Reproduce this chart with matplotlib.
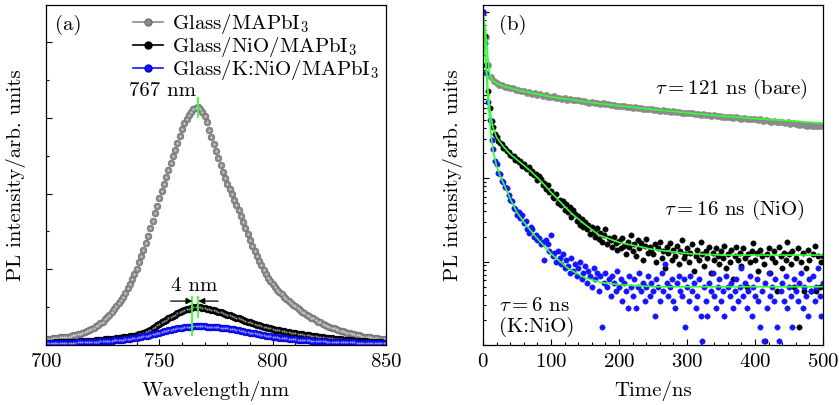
import numpy as np
import matplotlib
matplotlib.use('Agg')
import matplotlib.pyplot as plt
from matplotlib.lines import Line2D
from matplotlib.ticker import MultipleLocator, LogLocator, NullFormatter

plt.rcParams['font.family'] = 'serif'
plt.rcParams['font.serif'] = ['cmr10']
plt.rcParams['mathtext.fontset'] = 'cm'
plt.rcParams['axes.unicode_minus'] = False
plt.rcParams['axes.formatter.use_mathtext'] = True
plt.rcParams['font.size'] = 15

# ---------------- (a) steady-state PL ----------------
wl = np.arange(700, 851)   # nm, 1 nm step

pl_bare = [0.08, 0.08, 0.08, 0.09, 0.09, 0.09, 0.10, 0.10, 0.10, 0.11,
           0.11, 0.12, 0.13, 0.13, 0.14, 0.15, 0.16, 0.17, 0.18, 0.20,
           0.21, 0.23, 0.25, 0.27, 0.29, 0.31, 0.34, 0.37, 0.40, 0.43,
           0.47, 0.51, 0.55, 0.59, 0.64, 0.69, 0.75, 0.81, 0.87, 0.94,
           1.01, 1.09, 1.17, 1.26, 1.35, 1.44, 1.54, 1.64, 1.74, 1.84,
           1.94, 2.04, 2.13, 2.22, 2.31, 2.40, 2.49, 2.58, 2.67, 2.76,
           2.85, 2.93, 2.99, 3.04, 3.08, 3.11, 3.13, 3.14, 3.12, 3.08,
           3.02, 2.94, 2.84, 2.75, 2.65, 2.56, 2.47, 2.38, 2.29, 2.21,
           2.13, 2.06, 1.99, 1.92, 1.85, 1.78, 1.71, 1.63, 1.55, 1.47,
           1.39, 1.31, 1.24, 1.17, 1.11, 1.05, 0.99, 0.94, 0.89, 0.84,
           0.80, 0.77, 0.73, 0.70, 0.67, 0.64, 0.61, 0.58, 0.56, 0.53,
           0.51, 0.49, 0.46, 0.44, 0.42, 0.40, 0.38, 0.36, 0.35, 0.33,
           0.31, 0.30, 0.28, 0.27, 0.25, 0.24, 0.23, 0.22, 0.21, 0.20,
           0.19, 0.18, 0.17, 0.16, 0.16, 0.15, 0.14, 0.13, 0.13, 0.12,
           0.11, 0.11, 0.10, 0.10, 0.09, 0.09, 0.09, 0.08, 0.08, 0.08,
           0.08]

pl_nio = [0.030, 0.031, 0.032, 0.033, 0.034, 0.035, 0.036, 0.037, 0.038, 0.039, 0.040,
          0.041, 0.043, 0.044, 0.046, 0.047, 0.049, 0.050, 0.052, 0.053, 0.055,
          0.058, 0.061, 0.064, 0.067, 0.070, 0.073, 0.076, 0.079, 0.082, 0.085,
          0.089, 0.093, 0.097, 0.101, 0.105, 0.110, 0.115, 0.120, 0.125, 0.130,
          0.139, 0.148, 0.158, 0.169, 0.180, 0.199, 0.218, 0.238, 0.259, 0.280,
          0.298, 0.316, 0.334, 0.352, 0.370, 0.386, 0.402, 0.418, 0.434, 0.450,
          0.461, 0.472, 0.482, 0.491, 0.500, 0.502, 0.503, 0.500, 0.493, 0.485,
          0.478, 0.471, 0.464, 0.457, 0.450, 0.440, 0.430, 0.420, 0.410, 0.400,
          0.390, 0.380, 0.370, 0.360, 0.350, 0.340, 0.330, 0.320, 0.310, 0.300,
          0.290, 0.280, 0.270, 0.260, 0.250, 0.242, 0.234, 0.226, 0.218, 0.210,
          0.204, 0.198, 0.192, 0.186, 0.180, 0.175, 0.170, 0.165, 0.160, 0.155,
          0.150, 0.145, 0.140, 0.135, 0.130, 0.126, 0.122, 0.118, 0.114, 0.110,
          0.106, 0.102, 0.098, 0.094, 0.090, 0.087, 0.084, 0.081, 0.078, 0.075,
          0.072, 0.069, 0.066, 0.063, 0.060, 0.058, 0.056, 0.054, 0.052, 0.050,
          0.048, 0.046, 0.044, 0.042, 0.040, 0.038, 0.036, 0.034, 0.032, 0.030]

pl_knio = [0.025, 0.0255, 0.026, 0.0265, 0.027, 0.0275, 0.028, 0.0285, 0.029, 0.0295, 0.030,
           0.031, 0.032, 0.033, 0.034, 0.035, 0.036, 0.037, 0.038, 0.039, 0.040,
           0.042, 0.044, 0.046, 0.048, 0.050, 0.052, 0.054, 0.056, 0.058, 0.060,
           0.063, 0.066, 0.069, 0.072, 0.075, 0.079, 0.083, 0.087, 0.091, 0.095,
           0.101, 0.107, 0.113, 0.119, 0.125, 0.133, 0.141, 0.149, 0.157, 0.165,
           0.172, 0.179, 0.186, 0.193, 0.200, 0.206, 0.212, 0.218, 0.224, 0.230,
           0.233, 0.236, 0.239, 0.242, 0.245, 0.246, 0.247, 0.247, 0.246, 0.245,
           0.243, 0.241, 0.239, 0.237, 0.235, 0.232, 0.229, 0.226, 0.223, 0.220,
           0.215, 0.210, 0.205, 0.200, 0.195, 0.189, 0.183, 0.177, 0.171, 0.165,
           0.159, 0.153, 0.147, 0.141, 0.135, 0.130, 0.125, 0.120, 0.115, 0.110,
           0.106, 0.102, 0.098, 0.094, 0.090, 0.087, 0.084, 0.081, 0.078, 0.075,
           0.072, 0.070, 0.067, 0.065, 0.062, 0.060, 0.058, 0.056, 0.054, 0.052,
           0.051, 0.049, 0.048, 0.046, 0.045, 0.044, 0.043, 0.042, 0.041, 0.040,
           0.039, 0.038, 0.037, 0.036, 0.035, 0.034, 0.033, 0.032, 0.031, 0.030,
           0.029, 0.029, 0.028, 0.028, 0.027, 0.027, 0.026, 0.026, 0.025, 0.025]

peak_bare = 767
peak_knio = 764.6
peak_nio = 767.2

# ---------------- (b) TRPL ----------------
t_bare = np.arange(0, 501, 4)      # ns
trpl_bare = [1.0, 0.50, 0.23, 0.165, 0.147, 0.139, 0.131, 0.130, 0.125, 0.124,
             0.120, 0.120, 0.115, 0.115, 0.111, 0.112, 0.107, 0.108, 0.104, 0.105,
             0.101, 0.102, 0.098, 0.099, 0.095,
             0.094, 0.096, 0.092, 0.093, 0.090, 0.091, 0.088, 0.089, 0.088, 0.086,
             0.086, 0.084, 0.084, 0.083, 0.081, 0.082, 0.080, 0.081, 0.078, 0.079,
             0.077, 0.078, 0.075, 0.076, 0.074,
             0.074, 0.073, 0.074, 0.071, 0.072, 0.070, 0.071, 0.069, 0.070, 0.068,
             0.068, 0.067, 0.068, 0.066, 0.066, 0.065, 0.066, 0.064, 0.064, 0.063,
             0.064, 0.062, 0.062, 0.061, 0.061,
             0.061, 0.060, 0.061, 0.059, 0.059, 0.058, 0.059, 0.057, 0.058, 0.056,
             0.057, 0.056, 0.056, 0.055, 0.055, 0.054, 0.055, 0.053, 0.054, 0.053,
             0.052, 0.053, 0.051, 0.052, 0.051,
             0.051, 0.050, 0.051, 0.049, 0.050, 0.049, 0.048, 0.049, 0.047, 0.048,
             0.047, 0.046, 0.047, 0.045, 0.046, 0.045, 0.044, 0.045, 0.044, 0.043,
             0.044, 0.043, 0.042, 0.043, 0.042,
             0.042]

t_dec = np.arange(0, 500.1, 2.5)   # ns
norm_counts = 18000.0
counts_nio = [18000, 9300, 4100, 2000, 1250, 880, 740, 610, 570, 505, 480, 470, 420, 415, 380, 372, 345, 332, 335, 300,
              305, 280, 290, 255, 265, 240, 232, 245, 210, 222, 195, 205, 170, 190, 178, 150, 160, 135, 148, 122,
              128, 108, 104, 118, 92, 100, 86, 97, 76, 88, 71, 82, 62, 75, 68, 55, 64, 50, 58, 47,
              54, 44, 50, 39, 47, 41, 36, 45, 34, 40, 31, 38, 44, 29, 35, 33, 27, 36, 30, 25,
              32, 26, 35, 28, 22, 31, 27, 38, 24, 29, 21, 33, 26, 30, 19, 28, 34, 23, 27, 25,
              22, 29, 18, 26, 31, 20, 24, 15, 27, 23, 30, 19, 25, 21, 28, 17, 24, 33, 20, 22,
              26, 18, 23, 29, 14, 21, 25, 19, 31, 22, 16, 24, 20, 27, 13, 23, 19, 26, 21, 17,
              24, 20, 28, 15, 22, 18, 25, 11, 21, 27, 19, 23, 16, 26, 20, 9, 22, 18, 24, 30,
              19, 23, 14, 25, 21, 17, 2, 22, 26, 13, 20, 24, 18, 8, 27, 21, 15, 23, 19, 31,
              22, 17, 24, 9, 20, 26, 3, 18, 23, 8, 15, 25, 19, 8, 22, 28, 8, 21, 9, 18,
              21]
counts_knio = [18000, 7600, 3300, 1500, 900, 520, 400, 290, 265, 210, 200, 168, 162, 140, 136, 112, 100, 96, 80, 78,
               66, 70, 60, 66, 52, 55, 44, 40, 47, 44, 36, 38, 33, 35, 29, 31, 19, 33, 29, 24,
               38, 21, 23, 18, 24, 20, 17, 22, 15, 19, 16, 13, 20, 14, 17, 12, 15, 18, 11, 13,
               16, 10, 14, 12, 9, 15, 11, 13, 8, 12, 3, 10, 13, 9, 11, 7, 12, 10, 8, 14,
               9, 11, 6, 10, 8, 5, 12, 9, 7, 11, 5, 9, 13, 8, 10, 6, 9, 12, 7, 10,
               8, 4, 11, 9, 6, 13, 8, 17, 10, 7, 9, 11, 6, 5, 10, 12, 8, 7, 11, 3,
               9, 6, 12, 8, 10, 5, 7, 11, 4, 2, 9, 6, 4, 10, 8, 13, 7, 5, 9, 11,
               6, 8, 4, 12, 9, 7, 10, 5, 8, 11, 6, 9, 15, 7, 10, 5, 8, 12, 4, 9,
               7, 11, 6, 3, 8, 2, 10, 5, 13, 7, 9, 6, 11, 3, 2, 8, 10, 6, 12, 5,
               9, 7, 3, 11, 8, 6, 10, 13, 5, 9, 7, 4, 11, 8, 12, 6, 9, 15, 7, 4,
               10]

# fitted decays (green)
fit_t_bare = [0, 2, 4, 6, 8, 10, 12, 15, 20, 30, 50, 75, 100, 150, 200, 250, 300, 350, 400, 450, 500]
fit_bare = [1.0, 0.75, 0.55, 0.37, 0.23, 0.175, 0.158, 0.148, 0.138, 0.127, 0.115, 0.104, 0.095,
            0.083, 0.074, 0.067, 0.061, 0.056, 0.052, 0.049, 0.046]
fit_t_nio = [0, 2, 4, 6, 8, 10, 12, 15, 20, 30, 40, 50, 60, 70, 80, 90, 100, 110, 120, 130, 150,
             170, 200, 250, 300, 350, 400, 500]
fit_nio = [1.0, 0.6, 0.3, 0.16, 0.1, 0.068, 0.052, 0.04, 0.031, 0.024, 0.0195, 0.0167, 0.0143,
           0.0122, 0.0102, 0.0084, 0.0068, 0.0056, 0.0046, 0.0038, 0.0028, 0.0021, 0.0017,
           0.0014, 0.00125, 0.0012, 0.0012, 0.0012]
fit_t_knio = [0, 2, 4, 6, 8, 10, 12, 15, 20, 25, 30, 40, 50, 60, 75, 100, 125, 150, 175, 200, 250, 500]
fit_knio = [1.0, 0.5, 0.25, 0.13, 0.075, 0.048, 0.032, 0.021, 0.014, 0.0108, 0.0088, 0.0057,
            0.0039, 0.003, 0.0021, 0.00125, 0.00083, 0.00064, 0.00056, 0.00053, 0.0005, 0.0005]

c_gray = '#8a8a8a'
c_black = '#000000'
c_blue = '#1414ff'
c_green = '#33ff33'

fig = plt.figure(figsize=(8.39, 4.05), dpi=100)
ax1 = fig.add_axes([46/839, 60/405, 340/839, 340/405])
ax2 = fig.add_axes([483/839, 60/405, 340/839, 340/405])

# ---- panel a ----
series_a = [(pl_bare, c_gray, '#6f6f6f', '#d8d8d8'),
            (pl_nio, c_black, '#000000', '#9a9a9a'),
            (pl_knio, c_blue, '#0000cc', '#9a9aff')]
for vals, fc, ec, hc in series_a:
    ax1.plot(wl, vals, ls='none', marker='o', ms=4.8, mfc=fc, mec=ec, mew=0.5)
    ax1.plot(wl, vals, ls='none', marker='o', ms=1.6, mfc=hc, mec='none', alpha=0.9)

ax1.plot([peak_bare, peak_bare], [3.01, 3.26], color=c_green, lw=1.3)
ax1.plot([peak_knio, peak_knio], [0.13, 0.634], color=c_green, lw=1.3)
ax1.plot([peak_nio, peak_nio], [0.37, 0.634], color=c_green, lw=1.3)
ax1.annotate('', xy=(peak_knio, 0.58), xytext=(755.0, 0.58),
             arrowprops=dict(arrowstyle='-|>', color='k', lw=0.9, shrinkA=0, shrinkB=0, mutation_scale=9))
ax1.annotate('', xy=(peak_nio, 0.58), xytext=(775.9, 0.58),
             arrowprops=dict(arrowstyle='-|>', color='k', lw=0.9, shrinkA=0, shrinkB=0, mutation_scale=9))
ax1.text(751.6, 3.36, '767 nm', ha='center', va='center')
ax1.text(765.3, 0.78, '4 nm', ha='center', va='center')
ax1.text(0.026, 0.941, '(a)', transform=ax1.transAxes, ha='left', va='center')

handles = [Line2D([], [], color=c_gray, lw=1.2, marker='o', ms=5, mfc=c_gray, mec='#6f6f6f'),
           Line2D([], [], color=c_black, lw=1.2, marker='o', ms=5, mfc=c_black, mec='k'),
           Line2D([], [], color=c_blue, lw=1.2, marker='o', ms=5, mfc=c_blue, mec='#0000cc')]
labels = ['Glass/MAPbI$_3$', 'Glass/NiO/MAPbI$_3$', 'Glass/K:NiO/MAPbI$_3$']
ax1.legend(handles, labels, loc='upper left', bbox_to_anchor=(0.256, 0.978), frameon=False,
           borderpad=0, borderaxespad=0, handlelength=1.45, handletextpad=0.43, labelspacing=-0.05)

ax1.set_xlim(700, 850)
ax1.set_ylim(0, 4.49)
ax1.xaxis.set_major_locator(MultipleLocator(50))
ax1.xaxis.set_minor_locator(MultipleLocator(10))
ax1.yaxis.set_major_locator(MultipleLocator(1))
ax1.yaxis.set_minor_locator(MultipleLocator(0.5))
ax1.yaxis.set_major_formatter(NullFormatter())
ax1.set_xlabel('Wavelength/nm')
ax1.set_ylabel('PL intensity/arb. units')

# ---- panel b ----
ax2.plot(t_bare, trpl_bare, ls='none', marker='o', ms=4.6, mfc=c_gray, mec=c_gray, mew=0.3)
ax2.plot(t_dec, np.array(counts_nio) / norm_counts, ls='none', marker='o', ms=3.9,
         mfc=c_black, mec=c_black, mew=0.3)
ax2.plot(t_dec, np.array(counts_knio) / norm_counts, ls='none', marker='o', ms=3.9,
         mfc=c_blue, mec=c_blue, mew=0.3)
ax2.plot(fit_t_bare, fit_bare, color=c_green, lw=1.2)
ax2.plot(fit_t_nio, fit_nio, color=c_green, lw=1.2)
ax2.plot(fit_t_knio, fit_knio, color=c_green, lw=1.2)

ax2.text(0.956, 0.753, r'$\tau = 121$ ns (bare)', transform=ax2.transAxes, ha='right', va='center')
ax2.text(0.947, 0.397, r'$\tau = 16$ ns (NiO)', transform=ax2.transAxes, ha='right', va='center')
ax2.text(0.047, 0.082, '$\\tau = 6$ ns\n(K:NiO)', transform=ax2.transAxes, ha='left', va='center',
         linespacing=1.1)
ax2.text(0.047, 0.941, '(b)', transform=ax2.transAxes, ha='left', va='center')

ax2.set_yscale('log')
ax2.set_xlim(0, 500)
ax2.set_ylim(1e-4, 1.2)
ax2.xaxis.set_major_locator(MultipleLocator(100))
ax2.xaxis.set_minor_locator(MultipleLocator(20))
ax2.yaxis.set_major_locator(LogLocator(base=10))
ax2.yaxis.set_minor_locator(LogLocator(base=10, subs=np.arange(2, 10), numticks=20))
ax2.yaxis.set_major_formatter(NullFormatter())
ax2.yaxis.set_minor_formatter(NullFormatter())
ax2.set_xlabel('Time/ns')
ax2.set_ylabel('PL intensity/arb. units')

for ax in (ax1, ax2):
    for s in ax.spines.values():
        s.set_linewidth(0.9)
    ax.tick_params(which='both', direction='in', top=False, right=False, width=0.8)
    ax.tick_params(which='major', length=4, pad=6)
    ax.tick_params(which='minor', length=2.2)
    ax.yaxis.set_label_coords(-0.058, 0.5)
    ax.xaxis.set_label_coords(0.5, -0.105)

fig.savefig('out.png', dpi=100)
